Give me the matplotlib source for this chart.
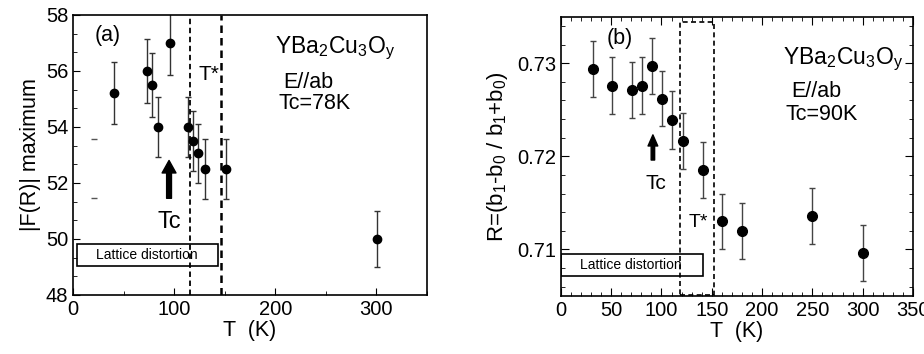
import numpy as np
import matplotlib
matplotlib.use('Agg')
import matplotlib.pyplot as plt
from matplotlib.ticker import MultipleLocator, AutoMinorLocator
from matplotlib.patches import Rectangle

plt.rcParams['font.family'] = ['Liberation Sans', 'DejaVu Sans']
plt.rcParams['mathtext.fontset'] = 'custom'
plt.rcParams['mathtext.rm'] = 'Liberation Sans'
plt.rcParams['mathtext.it'] = 'Liberation Sans'

# panel (a) data
T_a = [41, 73, 78.5, 84, 96, 114, 119, 124, 131, 151, 300.5]
F_a = [55.2, 56.0, 55.5, 54.0, 57.0, 54.0, 53.5, 53.05, 52.5, 52.5, 50.0]
F_a_err = [1.1, 1.13, 1.13, 1.08, 1.16, 1.08, 1.08, 1.07, 1.07, 1.07, 1.0]
stray_T = [21, 21]
stray_F = [53.57, 51.46]
Tc_a = 78
Tstar_a = [115.5, 146.5]

# panel (b) data
T_b = [31.5, 50.5, 70.5, 80.5, 90.5, 100.5, 110.5, 121, 141, 160.5, 180, 250, 300]
R_b = [0.7294, 0.7276, 0.7271, 0.7276, 0.7297, 0.7262, 0.7239, 0.7216, 0.7185,
       0.7130, 0.7120, 0.7136, 0.7096]
R_b_err = [0.0030, 0.0031, 0.0030, 0.0031, 0.0030, 0.0030, 0.0031, 0.0030, 0.0030,
           0.0030, 0.0030, 0.0030, 0.0030]
Tc_b = 90
Tstar_b = [118, 152]

fig = plt.figure(figsize=(9.24, 3.54), dpi=100)
ax1 = fig.add_axes([0.079, 0.167, 0.383, 0.791])
ax2 = fig.add_axes([0.607, 0.164, 0.381, 0.789])

fs = 14.5   # tick labels
fl = 15.5   # axis labels / annotations

# ---- panel (a)
ax1.errorbar(T_a, F_a, yerr=F_a_err, fmt='o', color='black', ms=6,
             ecolor='#333333', elinewidth=1, capsize=2.5, capthick=1)
ax1.plot(stray_T, stray_F, '_', color='#555555', ms=4)
ax1.axvline(Tstar_a[0], color='black', ls=(0, (3, 2)), lw=1.3)
ax1.axvline(Tstar_a[1], color='black', ls=(0, (3, 2)), lw=1.8)
ax1.add_patch(Rectangle((4, 49.02), 139.5, 0.78, fill=False, ec='black', lw=1.2))
ax1.text(73, 49.43, 'Lattice distortion', fontsize=10, ha='center', va='center')
ax1.annotate('', xy=(95, 52.9), xytext=(95, 51.35),
             arrowprops=dict(arrowstyle='simple,head_width=1.0,head_length=0.9,tail_width=0.35',
                             color='black'))
ax1.text(95, 50.6, 'Tc', fontsize=17, ha='center', va='center')
ax1.text(134, 55.87, 'T*', fontsize=15, ha='center', va='center')
ax1.text(34, 57.25, '(a)', fontsize=fl, ha='center', va='center')
ax1.text(200, 56.8, r'YBa$_2$Cu$_3$O$_y$', fontsize=16.5, ha='left', va='center')
ax1.text(208, 55.6, 'E//ab', fontsize=fl, ha='left', va='center')
ax1.text(203.5, 54.85, 'Tc=%dK' % Tc_a, fontsize=fl, ha='left', va='center')

ax1.set_xlim(0, 350)
ax1.set_ylim(48, 58)
ax1.xaxis.set_major_locator(MultipleLocator(100))
ax1.xaxis.set_minor_locator(MultipleLocator(50))
ax1.yaxis.set_major_locator(MultipleLocator(2))
ax1.yaxis.set_minor_locator(AutoMinorLocator(3))
ax1.tick_params(which='both', direction='in', labelsize=fs)
ax1.tick_params(which='major', length=5)
ax1.tick_params(which='minor', length=3)
ax1.set_xlabel('T  (K)', fontsize=fl, labelpad=1)
ax1.set_ylabel('|F(R)| maximum', fontsize=fl, labelpad=3)
for s in ax1.spines.values():
    s.set_linewidth(1.2)

# ---- panel (b)
ax2.errorbar(T_b, R_b, yerr=R_b_err, fmt='o', color='black', ms=7,
             ecolor='#444444', elinewidth=1, capsize=2.5, capthick=1)
ax2.add_patch(Rectangle((Tstar_b[0], 0.7051), Tstar_b[1] - Tstar_b[0], 0.0293,
                        fill=False, ec='black', ls=(0, (3, 2)), lw=1.2))
ax2.add_patch(Rectangle((0.5, 0.70714), 140.5, 0.00232, fill=False, ec='black', lw=1.2))
ax2.text(70, 0.7083, 'Lattice distortion', fontsize=10, ha='center', va='center')
ax2.annotate('', xy=(91.5, 0.7226), xytext=(91.5, 0.7193),
             arrowprops=dict(arrowstyle='simple,head_width=0.7,head_length=0.8,tail_width=0.25',
                             color='black'))
ax2.text(94, 0.7171, 'Tc', fontsize=15, ha='center', va='center')
ax2.text(137, 0.7129, 'T*', fontsize=14, ha='center', va='center')
ax2.text(59, 0.7327, '(b)', fontsize=fl, ha='center', va='center')
ax2.text(221, 0.7304, r'YBa$_2$Cu$_3$O$_y$', fontsize=16.5, ha='left', va='center')
ax2.text(229, 0.7270, 'E//ab', fontsize=fl, ha='left', va='center')
ax2.text(223, 0.7245, 'Tc=%dK' % Tc_b, fontsize=fl, ha='left', va='center')

ax2.set_xlim(0, 350)
ax2.set_ylim(0.705, 0.735)
ax2.xaxis.set_major_locator(MultipleLocator(50))
ax2.xaxis.set_minor_locator(MultipleLocator(10))
ax2.yaxis.set_major_locator(MultipleLocator(0.01))
ax2.yaxis.set_minor_locator(MultipleLocator(0.002))
ax2.yaxis.set_major_formatter(plt.FuncFormatter(lambda v, p: '%.2f' % v))
ax2.tick_params(which='both', direction='in', top=True, right=True, labelsize=fs)
ax2.tick_params(which='major', length=6)
ax2.tick_params(which='minor', length=3)
ax2.set_xlabel('T  (K)', fontsize=fl, labelpad=1)
ax2.set_ylabel(r'R=(b$_1$-b$_0$ / b$_1$+b$_0$)', fontsize=16, labelpad=5)
for s in ax2.spines.values():
    s.set_linewidth(1.2)

fig.savefig('out.png', dpi=100)
